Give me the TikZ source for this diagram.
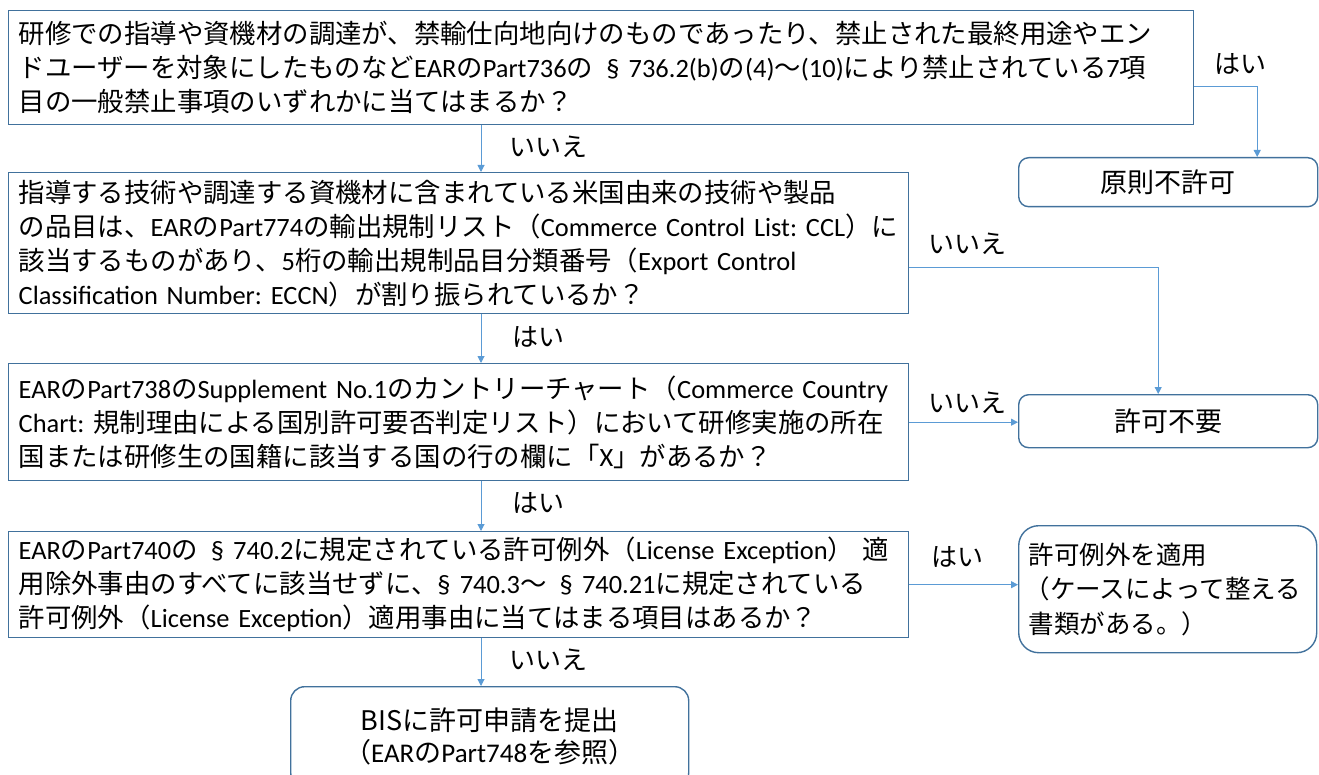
\documentclass[tikz,border=0pt]{standalone}
\usepackage{fontspec}
\setmainfont{Noto Sans CJK JP}
\newfontfamily\cb{Carlito}
\usetikzlibrary{arrows.meta}
\definecolor{edgec}{HTML}{41719C}
\definecolor{arrowc}{HTML}{5B9BD5}
\newcommand\lt[1]{{\cb #1}}
\newcommand\sect{\makebox[1.35em][l]{\hspace{0.5em}{\cb §}}}
\newcommand\sectb{\makebox[0.85em][l]{{\cb §}}}
\frenchspacing
\begin{document}
\begin{tikzpicture}[x=1pt,y=-1pt,
  qbox/.style={draw=edgec, line width=1.4pt, anchor=north west, align=left,
    inner xsep=10pt, inner ysep=0pt, font=\fontsize{26.4}{34}\selectfont\frenchspacing},
  rbox/.style={draw=edgec, line width=1.4pt, anchor=north west, rounded corners=10pt,
    inner xsep=10pt, inner ysep=0pt, font=\fontsize{27}{34}\selectfont},
  lbl/.style={font=\fontsize{26}{30}\selectfont, inner sep=0pt},
  arr/.style={draw=arrowc, line width=1pt, -{Triangle[width=7pt,length=7pt]}}]
\path[use as bounding box] (0,0) rectangle (1319,775);
\clip (0,0) rectangle (1319,775);

\node[qbox, text width=1165pt, minimum height=114pt] (b1) at (8,10)
 {\mbox{研修での指導や資機材の調達が、禁輸仕向地向けのものであったり、禁止された最終用途やエン}\\
  \mbox{ドユーザーを対象にしたものなど\lt{EAR}の\lt{Part736}の\sect\lt{736.2(b)}の\lt{(4)}～\lt{(10)}により禁止されている\lt{7}項}\\
  \mbox{目の一般禁止事項のいずれかに当てはまるか？}};

\node[qbox, text width=880pt, minimum height=141pt] (b2) at (8,172)
 {\mbox{指導する技術や調達する資機材に含まれている米国由来の技術や製品}\\
  \mbox{の品目は、\lt{EAR}の\lt{Part774}の輸出規制リスト（\lt{Commerce Control List: CCL}）に}\\
  \mbox{該当するものがあり、\lt{5}桁の輸出規制品目分類番号（\lt{Export Control}}\\
  \mbox{\lt{Classification Number: ECCN}）が割り振られているか？}};

\node[qbox, text width=880pt, minimum height=117pt] (b3) at (8,363)
 {\mbox{\lt{EAR}の\lt{Part738}の\lt{Supplement No.1}のカントリーチャート（\lt{Commerce Country}}\\
  \mbox{\lt{Chart:} 規制理由による国別許可要否判定リスト）において研修実施の所在}\\
  \mbox{国または研修生の国籍に該当する国の行の欄に「\lt{X}」があるか？}};

\node[qbox, text width=880pt, minimum height=106pt] (b4) at (8,531)
 {\mbox{\lt{EAR}の\lt{Part740}の\sect\lt{740.2}に規定されている許可例外（\lt{License Exception}） 適}\\
  \mbox{用除外事由のすべてに該当せずに、\sectb\lt{740.3}～\sect\lt{740.21}に規定されている}\\
  \mbox{許可例外（\lt{License Exception}）適用事由に当てはまる項目はあるか？}};

\node[rbox, minimum width=299pt, minimum height=49pt] (r1) at (1018,157) {原則不許可};
\node[rbox, minimum width=299pt, minimum height=53pt] (r2) at (1018,394) {許可不要};
\node[rbox, rounded corners=20pt, text width=278pt, align=left, minimum height=127pt,
  font=\fontsize{25.5}{34.5}\selectfont] (r3) at (1018,525)
 {許可例外を適用\\\mbox{\hspace{-4pt}（ケースによって整える}\\書類がある。）};
\node[rbox, rounded corners=14pt, text width=378pt, align=center, minimum height=100pt,
  font=\fontsize{27}{32}\selectfont] (r4) at (290,686)
 {BISに許可申請を提出\\（\lt{EAR}の\lt{Part748}を参照）};

\coordinate (ax) at (481,0);

\draw[arr] ([yshift=-19pt]b1.east) -| ([xshift=89pt]r1.north);
\draw[arr] (b1.south -| ax) -- (b2.north -| ax);
\draw[arr] ([yshift=-24.5pt]b2.east) -| ([xshift=-10pt]r2.north);
\draw[arr] (b2.south -| ax) -- (b3.north -| ax);
\draw[arr] (b3.east) -- (b3.east -| r2.west);
\draw[arr] (b3.south -| ax) -- (b4.north -| ax);
\draw[arr] (b4.east) -- (b4.east -| r3.west);
\draw[arr] (b4.south -| ax) -- (r4.north -| ax);

\node[lbl] (t1) at (1240,64) {はい};
\node[lbl] (t2) at (548,147) {いいえ};
\node[lbl] (t3) at (967,244) {いいえ};
\node[lbl] (t4) at (538,337) {はい};
\node[lbl] (t5) at (967,403) {いいえ};
\node[lbl] (t6) at (538,503) {はい};
\node[lbl] (t7) at (957,557) {はい};
\node[lbl] (t8) at (548,660) {いいえ};
\end{tikzpicture}
\end{document}
